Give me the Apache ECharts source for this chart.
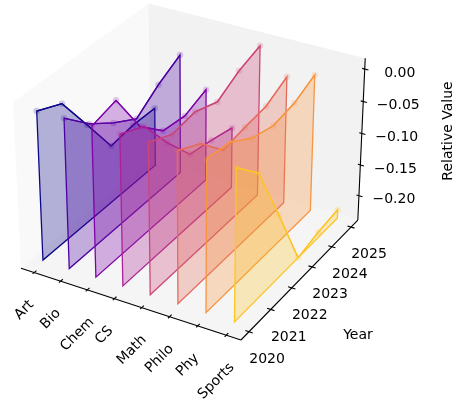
<!DOCTYPE html>
<html><head><meta charset="utf-8"><style>html,body{margin:0;background:#fff}#c{width:464px;height:403px}</style>
<script src="https://cdn.jsdelivr.net/npm/echarts@6/dist/echarts.min.js"></script></head>
<body><div id="c"></div><script>
const subjects=['Art','Bio','Chem','CS','Math','Philo','Phy','Sports'];
const years=[2020,2021,2022,2023,2024,2025];
const zTicks=[0,-0.05,-0.10,-0.15,-0.20];
const zTickLabels=['0.00','\u22120.05','\u22120.10','\u22120.15','\u22120.20'];
const valuesArt=[-0.001,-0.018,-0.079,-0.141,-0.136,-0.137];
const valuesBio=[0,-0.037,-0.064,-0.086,-0.060,-0.040];
const valuesChem=[0,0.010,-0.058,-0.093,-0.098,-0.084];
const valuesCS=[0,-0.017,-0.071,-0.118,-0.125,-0.134];
const valuesMath=[0,-0.017,-0.012,-0.025,-0.005,0.007];
const valuesPhilo=[0,-0.019,-0.058,-0.052,-0.048,-0.030];
const valuesPhy=[0,-0.005,-0.028,-0.038,-0.032,-0.016];
const valuesSports=[0,-0.038,-0.133,-0.232,-0.223,-0.218];
const allValues=[valuesArt,valuesBio,valuesChem,valuesCS,valuesMath,valuesPhilo,valuesPhy,valuesSports];
const colors=['#0d0887','#4c02a1','#7e03a8','#aa2395','#cc4778','#e66c5c','#f89540','#fdc527'];
const base=-0.232;

// matplotlib-style 3D camera: elev 30, azim -60, box 4:4:3, view distance 10
const xLim=[-0.5104,7.5104],yLim=[2019.6354,2025.3646],zLim=[-0.2399,0.0163];
const W=1.190476,H=0.892857,S=2117,CX=192.5,CY=163.6;
function project(x,y,z){
  const X=W*((x-xLim[0])/(xLim[1]-xLim[0])-.5),Y=W*((y-yLim[0])/(yLim[1]-yLim[0])-.5),Z=H*((z-zLim[0])/(zLim[1]-zLim[0])-.5);
  const d=10-(.4330127*X-.75*Y+.5*Z);
  return [CX+S*(.8660254*X+.5*Y)/d, CY-S*(-.25*X+.4330127*Y+.8660254*Z)/d];
}
const FONT="14px 'DejaVu Sans'";
const meas=document.createElement('canvas').getContext('2d');meas.font=FONT;
function frame(p,api){
  const c=q=>api.coord(q);
  const pane=(pts,fill)=>({type:'polygon',shape:{points:pts.map(q=>c(project(...q)))},style:{fill}});
  const seg=(a,b,w)=>{const A=c(project(...a)),B=c(project(...b));return{type:'line',shape:{x1:A[0],y1:A[1],x2:B[0],y2:B[1]},style:{stroke:'#000',lineWidth:w}}};
  const txt=(x,y,text,rot)=>({type:'text',x,y,rotation:rot||0,style:{text,font:FONT,fill:'#000',align:'center',verticalAlign:'middle'}});
  const [x0,x1]=xLim,[y0,y1]=yLim,[z0,z1]=zLim,ch=[];
  ch.push(pane([[x0,y0,z0],[x0,y1,z0],[x0,y1,z1],[x0,y0,z1]],'#f9f9f9'));
  ch.push(pane([[x0,y1,z0],[x1,y1,z0],[x1,y1,z1],[x0,y1,z1]],'#f2f2f2'));
  ch.push(pane([[x0,y0,z0],[x1,y0,z0],[x1,y1,z0],[x0,y1,z0]],'#f5f5f5'));
  ch.push(seg([x0,y0,z0],[x1,y0,z0],1.1),seg([x1,y0,z0],[x1,y1,z0],1.1),seg([x1,y1,z0],[x1,y1,z1],1.1));
  subjects.forEach((s,i)=>{
    ch.push(seg([i,y0-0.07,z0],[i,y0+0.09,z0],1.1));
    const t=c(project(i,y0,z0));
    const w=meas.measureText(s).width,h=(w+13)*Math.SQRT1_2;
    ch.push(txt(t[0]-10,t[1]+25.5+h/2,s,Math.PI/4));
  });
  years.forEach(y=>{
    ch.push(seg([x1-0.13,y,z0],[x1+0.13,y,z0],1.1));
    const t=c(project(x1,y,z0));
    ch.push(txt(t[0]+18,t[1]+27.5,String(y)));
  });
  zTicks.forEach((z,k)=>{
    ch.push(seg([x1-0.09,y1,z],[x1+0.13,y1,z],1.1));
    const t=c(project(x1,y1,z));
    ch.push(txt(t[0]+35,t[1]+4,zTickLabels[k]));
  });
  ch.push(txt(358,335.5,'Year'));
  ch.push(txt(448,131,'Relative Value',Math.PI/2));
  return {type:'group',children:ch};
}
const hexA=(h,a)=>'rgba('+[1,3,5].map(k=>parseInt(h.substr(k,2),16)).join(',')+','+a+')';
const series=[{type:'custom',silent:true,z:1,coordinateSystem:'cartesian2d',data:[[0,0]],renderItem:frame,animation:false,clip:false}];
subjects.forEach((s,i)=>{
  const vals=allValues[i];
  const ring=[project(i,years[0],base),...vals.map((v,j)=>project(i,years[j],v)),project(i,years[5],base)];
  series.push({type:'custom',name:s,silent:true,z:10+i*2,data:[[0,0]],animation:false,clip:false,
    renderItem:(p,api)=>({type:'polygon',shape:{points:ring.map(q=>api.coord(q))},style:{fill:hexA(colors[i],.3),stroke:colors[i],lineWidth:1.3,lineJoin:'miter'}})});
  series.push({type:'line',name:s,silent:true,z:11+i*2,animation:false,clip:false,data:vals.map((v,j)=>project(i,years[j],v)),
    symbol:'circle',symbolSize:6.5,showSymbol:true,showAllSymbol:true,itemStyle:{color:colors[i],opacity:.2},lineStyle:{color:colors[i],width:1.3},emphasis:{disabled:true}});
});
echarts.init(document.getElementById('c'),null,{renderer:'canvas'}).setOption({
  animation:false,backgroundColor:'#fff',tooltip:{show:false},
  grid:{left:0,right:0,top:0,bottom:0},
  xAxis:{type:'value',min:0,max:464,show:false},
  yAxis:{type:'value',min:0,max:403,inverse:true,show:false},
  series});
</script></body></html>
